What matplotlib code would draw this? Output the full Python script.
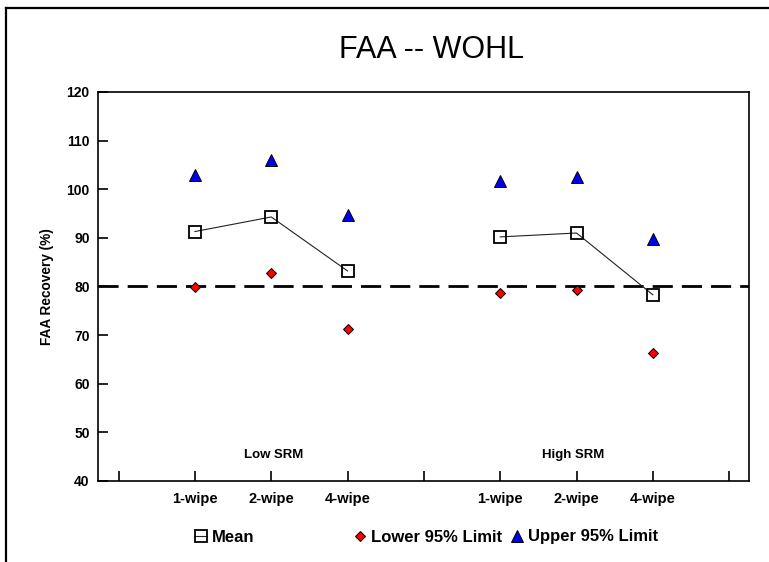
import matplotlib
matplotlib.use("Agg")
import matplotlib.pyplot as plt
from matplotlib.lines import Line2D

plt.rcParams['font.family'] = ['Liberation Sans', 'DejaVu Sans']
plt.rcParams['lines.scale_dashes'] = False

# ---- data ----
groups = ["Low SRM", "High SRM"]
wipes = ["1-wipe", "2-wipe", "4-wipe"]
low_mean = [91.3, 94.3, 83.2]
low_lower = [79.8, 82.7, 71.3]
low_upper = [102.9, 106.0, 94.7]
high_mean = [90.2, 91.0, 78.3]
high_lower = [78.6, 79.2, 66.4]
high_upper = [101.7, 102.6, 89.8]
reference_level = 80
low_x = [1, 2, 3]
high_x = [5, 6, 7]
tick_positions = [0, 1, 2, 3, 4, 5, 6, 7, 8]
tick_labels = [""] + wipes + [""] + wipes + [""]
y_ticks = [40, 50, 60, 70, 80, 90, 100, 110, 120]
legend_labels = ["Mean", "Lower 95% Limit", "Upper 95% Limit"]

W, H = 769, 562
fig = plt.figure(figsize=(W / 100, H / 100), dpi=100)
ax = fig.add_axes([98 / W, 1 - 481 / H, (749 - 98) / W, (481 - 92) / H])

# outer frame (left & top)
fig.add_artist(Line2D([6 / W, 6 / W], [0, 1 - 8 / H], color='black', lw=1.6, transform=fig.transFigure))
fig.add_artist(Line2D([6 / W, 1], [1 - 8 / H, 1 - 8 / H], color='black', lw=1.6, transform=fig.transFigure))

ax.axhline(reference_level, color='black', lw=2.0, linestyle=(0, (14.5, 6.5)), zorder=1)

sq = dict(marker='s', markersize=8, markerfacecolor='none', markeredgecolor='black',
          markeredgewidth=1.3, color='#222222', lw=0.8)
dia = dict(marker='D', markersize=5.2, markerfacecolor='#ff0000', markeredgecolor='black',
           markeredgewidth=0.7, linestyle='none')
tri = dict(marker='^', markersize=8.5, markerfacecolor='#0000ee', markeredgecolor='black',
           markeredgewidth=0.7, linestyle='none')

ax.plot(low_x, low_mean, zorder=3, **sq)
ax.plot(high_x, high_mean, zorder=3, **sq)
ax.plot(low_x, low_lower, zorder=4, **dia)
ax.plot(high_x, high_lower, zorder=4, **dia)
ax.plot(low_x, low_upper, zorder=4, **tri)
ax.plot(high_x, high_upper, zorder=4, **tri)

ax.set_xlim(-0.27, 8.26)
ax.set_ylim(40, 120)
ax.set_xticks(tick_positions)
ax.set_xticklabels(tick_labels, fontweight='bold', fontsize=10.5)
ax.set_yticks(y_ticks)
ax.set_yticklabels([str(v) for v in y_ticks], fontweight='bold', fontsize=10)
ax.tick_params(axis='both', direction='in', length=7, width=1.2)
ax.tick_params(axis='x', pad=8)
ax.tick_params(axis='y', pad=6)
for s in ax.spines.values():
    s.set_linewidth(1.2)

ax.set_ylabel("FAA Recovery (%)", fontweight='bold', fontsize=9.8, labelpad=9)

ax.text(2.03, 45.4, groups[0], ha='center', va='center', fontweight='bold', fontsize=9.5)
ax.text(5.95, 45.4, groups[1], ha='center', va='center', fontweight='bold', fontsize=9.5)

fig.text(432 / W, 1 - 58 / H, "FAA -- WOHL", ha='center', va='baseline', fontsize=22)

# legend
h_mean = Line2D([], [], **sq)
h_low = Line2D([], [], **dia)
h_up = Line2D([], [], **tri)
for h, lab, left in [(h_mean, legend_labels[0], 194), (h_low, legend_labels[1], 353),
                     (h_up, legend_labels[2], 510)]:
    fig.legend([h], [lab], loc='center left', bbox_to_anchor=(left / W, 1 - 537 / H),
               frameon=False, handlelength=0.8, handletextpad=0.3,
               prop={'weight': 'bold', 'size': 12}, borderaxespad=0, borderpad=0)

fig.savefig("out.png", dpi=100)
